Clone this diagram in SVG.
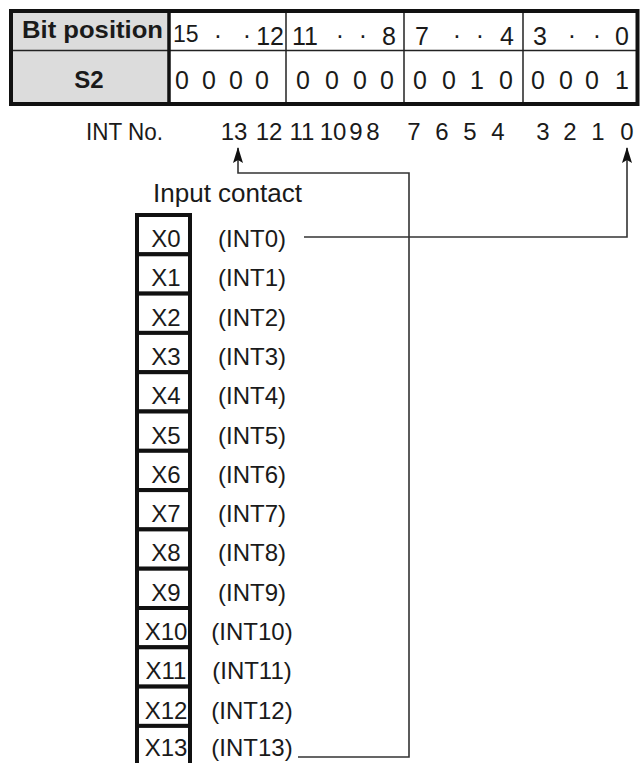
<svg xmlns="http://www.w3.org/2000/svg" width="640" height="763" viewBox="0 0 640 763">
<style>
text{font-family:"Liberation Sans",Arial,sans-serif;fill:#1a1a1a}
.b{font-weight:bold}
.d{font-size:25px;text-anchor:middle}
.h{font-size:25px}
.n{font-size:24px;text-anchor:middle}
.x{font-size:24px;text-anchor:middle}
.thin{stroke:#222;stroke-width:1.5;fill:none}
.box{fill:#fff;stroke:#111;stroke-width:4}
.conn{stroke:#333;stroke-width:1.6;fill:none}
</style>
<defs>
<marker id="arr" viewBox="0 0 16 10" refX="15" refY="5" markerWidth="16" markerHeight="10" markerUnits="userSpaceOnUse" orient="auto">
<path d="M16,5 L0,0 L3,5 L0,10 Z" fill="#111"/>
</marker>
</defs>
<g id="table">
<rect x="11" y="11" width="158" height="93" fill="#dcdcdc"/>
<rect x="169" y="11" width="468" height="93" fill="#fff"/>
<line class="thin" x1="11" y1="50.5" x2="637" y2="50.5"/>
<line class="thin" x1="286" y1="11" x2="286" y2="104"/>
<line class="thin" x1="404" y1="11" x2="404" y2="104"/>
<line class="thin" x1="523" y1="11" x2="523" y2="104"/>
<line stroke="#111" stroke-width="3.5" x1="169" y1="11" x2="169" y2="104"/>
<rect x="11" y="11" width="626.5" height="93" fill="none" stroke="#111" stroke-width="4"/>
<text class="b" x="22" y="38" font-size="24" textLength="141" lengthAdjust="spacingAndGlyphs">Bit position</text>
<text class="b" x="89" y="88" font-size="24" text-anchor="middle">S2</text>
<text x="173" y="42" font-size="23">15</text>
<text class="d" x="218" y="44">·</text>
<text class="d" x="247" y="44">·</text>
<text class="h" x="284" y="45" text-anchor="end">12</text>
<text class="h" x="292" y="45">11</text>
<text class="d" x="340" y="44">·</text>
<text class="d" x="363" y="44">·</text>
<text class="h" x="396" y="45" text-anchor="end">8</text>
<text class="h" x="415" y="45">7</text>
<text class="d" x="457" y="44">·</text>
<text class="d" x="480" y="44">·</text>
<text class="h" x="514" y="45" text-anchor="end">4</text>
<text class="h" x="533" y="45">3</text>
<text class="d" x="572" y="44">·</text>
<text class="d" x="597" y="44">·</text>
<text class="h" x="629" y="45" text-anchor="end">0</text>
<text class="d" x="182" y="89">0</text>
<text class="d" x="209" y="89">0</text>
<text class="d" x="236" y="89">0</text>
<text class="d" x="262" y="89">0</text>
<text class="d" x="303" y="89">0</text>
<text class="d" x="332" y="89">0</text>
<text class="d" x="360" y="89">0</text>
<text class="d" x="387" y="89">0</text>
<text class="d" x="420" y="89">0</text>
<text class="d" x="449" y="89">0</text>
<text class="d" x="477" y="89">1</text>
<text class="d" x="506" y="89">0</text>
<text class="d" x="538" y="89">0</text>
<text class="d" x="566" y="89">0</text>
<text class="d" x="592" y="89">0</text>
<text class="d" x="622" y="89">1</text>
</g>
<g id="int-no">
<text x="86" y="140" font-size="24" textLength="77" lengthAdjust="spacingAndGlyphs">INT No.</text>
<text class="n" x="234" y="140">13</text>
<text class="n" x="269" y="140">12</text>
<text class="n" x="302" y="140">11</text>
<text class="n" x="333" y="140">10</text>
<text class="n" x="356" y="140">9</text>
<text class="n" x="373" y="140">8</text>
<text class="n" x="414" y="140">7</text>
<text class="n" x="442" y="140">6</text>
<text class="n" x="470" y="140">5</text>
<text class="n" x="498" y="140">4</text>
<text class="n" x="543" y="140">3</text>
<text class="n" x="570" y="140">2</text>
<text class="n" x="598" y="140">1</text>
<text class="n" x="627" y="140">0</text>
</g>
<g id="input-contact">
<text x="153" y="202" font-size="25" textLength="149" lengthAdjust="spacingAndGlyphs">Input contact</text>
<g id="x0"><rect class="box" x="137" y="215" width="53" height="39.3"/><text class="x" x="166" y="247">X0</text><text class="x" x="252" y="247">(INT0)</text></g>
<g id="x1"><rect class="box" x="137" y="254.3" width="53" height="39.3"/><text class="x" x="166" y="286.3">X1</text><text class="x" x="252" y="286.3">(INT1)</text></g>
<g id="x2"><rect class="box" x="137" y="293.6" width="53" height="39.3"/><text class="x" x="166" y="325.6">X2</text><text class="x" x="252" y="325.6">(INT2)</text></g>
<g id="x3"><rect class="box" x="137" y="332.9" width="53" height="39.3"/><text class="x" x="166" y="364.9">X3</text><text class="x" x="252" y="364.9">(INT3)</text></g>
<g id="x4"><rect class="box" x="137" y="372.2" width="53" height="39.3"/><text class="x" x="166" y="404.2">X4</text><text class="x" x="252" y="404.2">(INT4)</text></g>
<g id="x5"><rect class="box" x="137" y="411.5" width="53" height="39.3"/><text class="x" x="166" y="443.5">X5</text><text class="x" x="252" y="443.5">(INT5)</text></g>
<g id="x6"><rect class="box" x="137" y="450.8" width="53" height="39.3"/><text class="x" x="166" y="482.8">X6</text><text class="x" x="252" y="482.8">(INT6)</text></g>
<g id="x7"><rect class="box" x="137" y="490.1" width="53" height="39.3"/><text class="x" x="166" y="522.1">X7</text><text class="x" x="252" y="522.1">(INT7)</text></g>
<g id="x8"><rect class="box" x="137" y="529.4" width="53" height="39.3"/><text class="x" x="166" y="561.4">X8</text><text class="x" x="252" y="561.4">(INT8)</text></g>
<g id="x9"><rect class="box" x="137" y="568.7" width="53" height="39.3"/><text class="x" x="166" y="600.7">X9</text><text class="x" x="252" y="600.7">(INT9)</text></g>
<g id="x10"><rect class="box" x="137" y="608" width="53" height="39.3"/><text class="x" x="166" y="640">X10</text><text class="x" x="252" y="640">(INT10)</text></g>
<g id="x11"><rect class="box" x="137" y="647.3" width="53" height="39.3"/><text class="x" x="166" y="679.3">X11</text><text class="x" x="252" y="679.3">(INT11)</text></g>
<g id="x12"><rect class="box" x="137" y="686.6" width="53" height="39.3"/><text class="x" x="166" y="718.6">X12</text><text class="x" x="252" y="718.6">(INT12)</text></g>
<g id="x13"><rect class="box" x="137" y="725.9" width="53" height="39.3"/><text class="x" x="166" y="756">X13</text><text class="x" x="252" y="756">(INT13)</text></g>
</g>
<g id="connectors">
<polyline class="conn" points="304,237 627,237 627,148" marker-end="url(#arr)"/>
<polyline class="conn" points="298,757 409,757 409,173 238,173 238,148" marker-end="url(#arr)"/>
</g>
</svg>
